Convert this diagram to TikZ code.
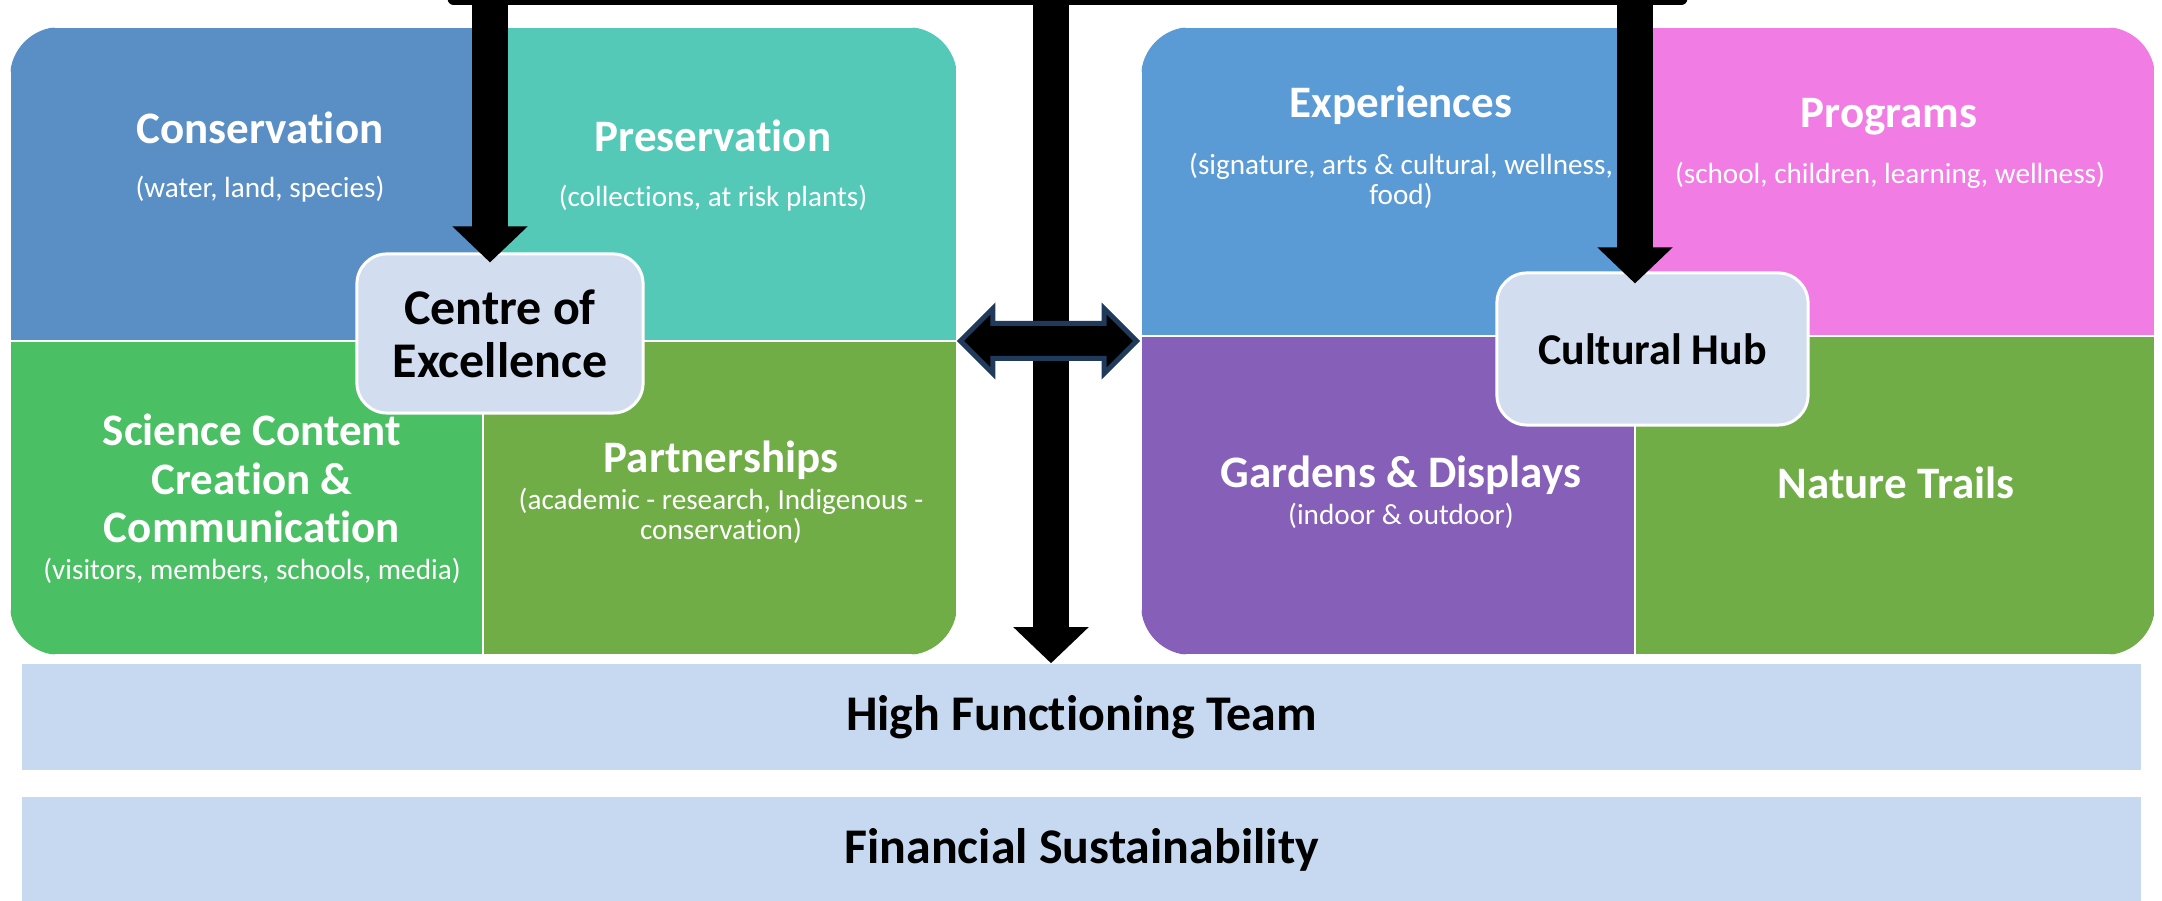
\documentclass[tikz,border=0pt]{standalone}
\usepackage{fontspec}
\setmainfont{Carlito}[Ligatures=NoCommon]
\usetikzlibrary{arrows.meta,shapes.arrows,calc}

\definecolor{consblue}{HTML}{5A8FC6}
\definecolor{presteal}{HTML}{54C9B7}
\definecolor{scigreen}{HTML}{4ABF63}
\definecolor{partgreen}{HTML}{70AD47}
\definecolor{expblue}{HTML}{5B9BD5}
\definecolor{progpink}{HTML}{F17CE3}
\definecolor{gardpurple}{HTML}{865FB8}
\definecolor{hubfill}{HTML}{D2DEEF}
\definecolor{barfill}{HTML}{C6D9F0}
\definecolor{navyedge}{HTML}{1F3A5A}

\tikzset{
  cell/.style={rectangle, inner sep=0pt, outer sep=0pt, anchor=north west,
    draw=white, line width=0.025cm},
  % multi-line labels: the base anchor sits on the last line
  ttl/.style={text=white, inner sep=0pt, anchor=base, align=center,
    font=\fontsize{12.8}{13.8}\selectfont\bfseries},
  sub/.style={text=white, inner sep=0pt, anchor=base, align=center,
    font=\fontsize{8.3}{8.8}\selectfont},
  hub/.style={rectangle, rounded corners=0.3cm, fill=hubfill, draw=white,
    line width=0.03cm, inner sep=0pt, align=center, text=black},
  band/.style={rectangle, fill=barfill, inner sep=0pt, minimum width=21.17cm,
    minimum height=1.06cm, font=\fontsize{14.2}{15}\selectfont\bfseries},
  feed/.style={draw=black, line width=0.36cm,
    -{Triangle[width=0.73cm,length=0.36cm]}},
  link/.style={double arrow, fill=black, draw=navyedge, line width=0.05cm,
    inner xsep=0pt, inner ysep=0.15cm, minimum height=1.76cm,
    minimum width=0.6cm, double arrow head extend=0.15cm,
    double arrow tip angle=90}
}

\begin{document}
\begin{tikzpicture}[x=0.01cm, y=-0.01cm]
\useasboundingbox (0,0) rectangle (2162,901);
\clip (0,0) rectangle (2162,901);

% left panel: Centre of Excellence quadrants
\begin{scope}
  \clip[rounded corners=0.5cm] (10,27) rectangle (957,655);
  \node[cell, fill=consblue,  minimum width=4.73cm, minimum height=3.14cm] (cons) at (10,27) {};
  \node[cell, fill=presteal,  minimum width=4.74cm, minimum height=3.14cm] (pres) at (483,27) {};
  \node[cell, fill=scigreen,  minimum width=4.73cm, minimum height=3.14cm] (sci)  at (10,341) {};
  \node[cell, fill=partgreen, minimum width=4.74cm, minimum height=3.14cm] (part) at (483,341) {};
\end{scope}

% right panel: Cultural Hub quadrants
\begin{scope}
  \clip[rounded corners=0.5cm] (1141,27) rectangle (2155,655);
  \node[cell, fill=expblue,    minimum width=4.94cm, minimum height=3.09cm] (exp)   at (1141,27) {};
  \node[cell, fill=progpink,   minimum width=5.20cm, minimum height=3.09cm] (prog)  at (1635,27) {};
  \node[cell, fill=gardpurple, minimum width=4.94cm, minimum height=3.19cm] (gard)  at (1141,336) {};
  \node[cell, fill=partgreen,  minimum width=5.20cm, minimum height=3.19cm] (trail) at (1635,336) {};
\end{scope}

% quadrant labels
\node[ttl] (consT) at (260,144) {Conservation};
\node[sub] (consS) at (260,198) {(water, land, species)};
\node[ttl] (presT) at (713,152) {Preservation};
\node[sub] (presS) at (713,207) {(collections, at risk plants)};
\node[ttl] (sciT) at (252,543) {Science Content\\Creation \&\\Communication};
\node[sub] (sciS) at (252,580) {(visitors, members, schools, media)};
\node[ttl] (partT) at (721,473) {Partnerships};
\node[sub] (partS) at (721,540) {(academic - research, Indigenous -\\conservation)};

\node[ttl] (expT) at (1401,118) {Experiences};
\node[sub] (expS) at (1401,205) {(signature, arts \& cultural, wellness,\\food)};
\node[ttl] (progT) at (1889,128) {Programs};
\node[sub] (progS) at (1890,184) {(school, children, learning, wellness)};
\node[ttl] (gardT) at (1401,488) {Gardens \& Displays};
\node[sub] (gardS) at (1401,525) {(indoor \& outdoor)};
\node[ttl] (trailT) at (1896,499) {Nature Trails};

% hub boxes
\node[hub, minimum width=2.86cm, minimum height=1.59cm,
  font=\fontsize{14.2}{15.1}\selectfont\bfseries] (coe) at (500,333.5) {Centre of\\Excellence};
\node[hub, minimum width=3.11cm, minimum height=1.52cm,
  font=\fontsize{12.5}{13.8}\selectfont\bfseries] (chub) at (1652.5,349) {Cultural Hub};

% foundation bands
\node[band] (hft) at (1081.5,717) {High Functioning Team};
\node[band] (fin) at (1081.5,850) {Financial Sustainability};

% top feeder bar and its three drops
\node[rectangle, fill=black, rounded corners=0.06cm, inner sep=0pt,
  minimum width=12.39cm, minimum height=0.45cm] (topbar) at (1067.5,-17.5) {};
\coordinate (dropL) at (490,0);
\coordinate (dropC) at (1051,0);
\coordinate (dropR) at (1635,0);
\draw[feed, shorten >=-0.1cm] (dropL) -- (dropL |- coe.north);
\draw[feed, shorten >=-0.12cm] (dropR) -- (dropR |- chub.north);
\draw[feed] (dropC) -- (dropC |- hft.north);

% two-way link between the panels
\node[link] (twoway) at (1048.5,341) {};
\end{tikzpicture}
\end{document}
